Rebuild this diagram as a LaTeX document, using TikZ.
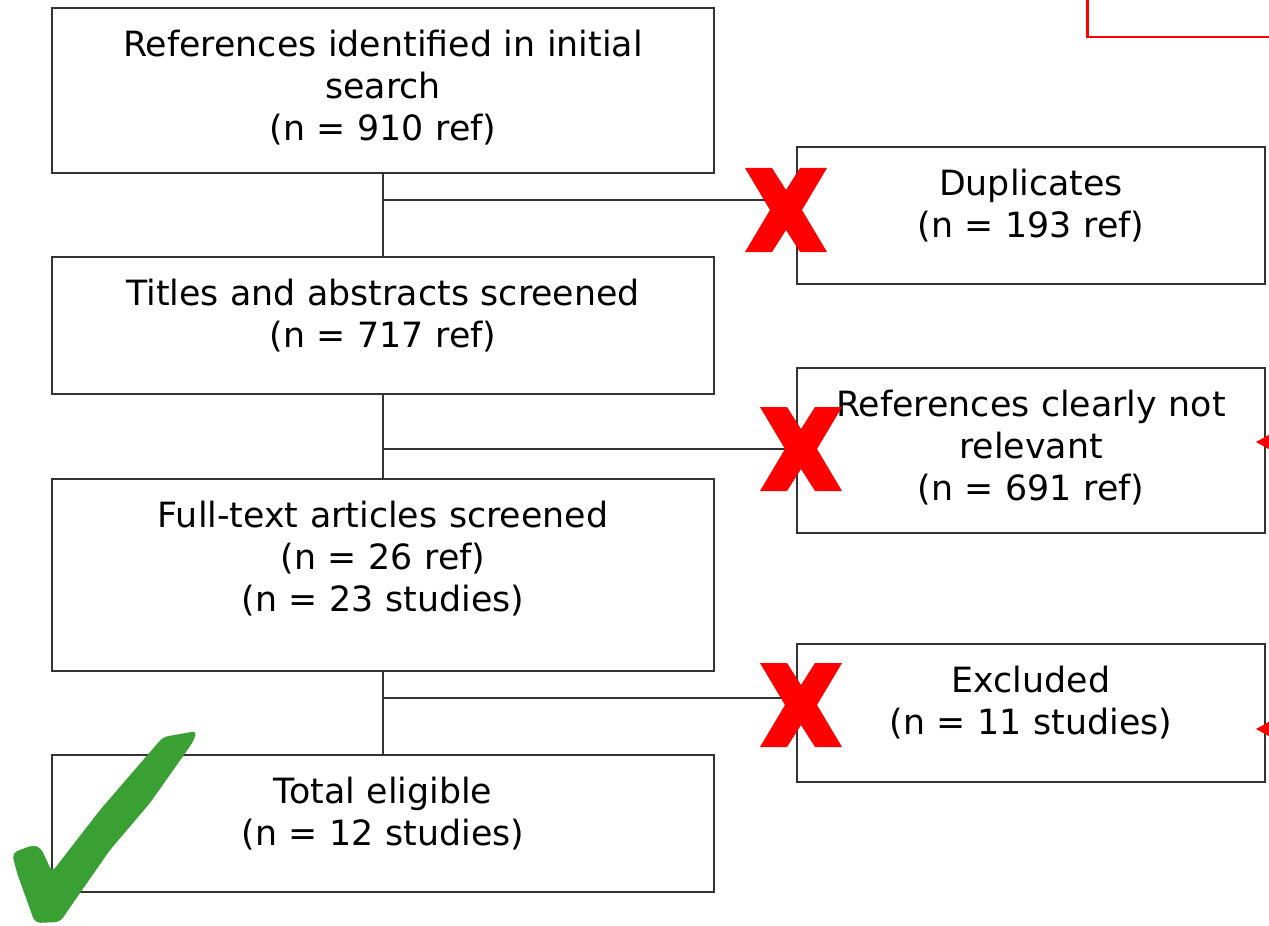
\documentclass[tikz,border=0pt]{standalone}
\usepackage{fontspec}
\setmainfont{DejaVu Sans}
\usepackage{tikz}
\usetikzlibrary{calc}
\definecolor{boxgray}{RGB}{51,51,51}
\definecolor{tickgreen}{RGB}{58,160,52}

\tikzset{
	stage/.style={draw=boxgray, line width=1.1pt, text width=13.24cm, inner sep=0pt,
		align=center, anchor=north, text height=0.98cm, font=\fontsize{19.8}{23.8}\selectfont},
	side/.style={stage, text width=9.36cm},
	link/.style={draw=boxgray, line width=1.1pt},
	redx/.style={fill=red},
}

\begin{document}
\begin{tikzpicture}[x=0.02cm, y=-0.02cm]
		\useasboundingbox (0,0) rectangle (1269,926);
		\clip (0,0) rectangle (1269,926);
		% main column
		\node (A) [stage, text depth=2.32cm] at (383,7) {References identified in initial\\search\\(n = 910 ref)};
		\node (B) [stage, text depth=1.76cm] at (383,256) {Titles and abstracts screened\\(n = 717 ref)};
		\node (C) [stage, text depth=2.86cm] at (383,478) {Full-text articles screened\\(n = 26 ref)\\(n = 23 studies)};
		\node (D) [stage, text depth=1.76cm] at (383,754) {Total eligible\\(n = 12 studies)};
		% removed at each step
		\node (E) [side, text depth=1.76cm] at (1031,146) {Duplicates\\(n = 193 ref)};
		\node (F) [side, text depth=2.32cm] at (1031,367) {References clearly not\\relevant\\(n = 691 ref)};
		\node (G) [side, text depth=1.78cm] at (1031,643) {Excluded\\(n = 11 studies)};
		\coordinate (J1) at (383,200);
		\coordinate (J2) at (383,449);
		\coordinate (J3) at (383,698);
		\draw[link](A) to (B);
		\draw[link](B) to (C);
		\draw[link](C) to (D);
		\draw[link](J1) to (J1 -| E.west);
		\draw[link](J2) to (J2 -| F.west);
		\draw[link](J3) to (J3 -| G.west);
		% crosses
		\fill[redx, shift={(786,210)}] (-41,-42) -- (-14,-42) -- (0,-20) -- (14,-42) -- (41,-42) -- (16,0) -- (41,42) -- (14,42) -- (0,20) -- (-14,42) -- (-41,42) -- (-16,0) -- cycle;
		\fill[redx, shift={(801,449)}] (-41,-42) -- (-14,-42) -- (0,-20) -- (14,-42) -- (41,-42) -- (16,0) -- (41,42) -- (14,42) -- (0,20) -- (-14,42) -- (-41,42) -- (-16,0) -- cycle;
		\fill[redx, shift={(801,705)}] (-41,-42) -- (-14,-42) -- (0,-20) -- (14,-42) -- (41,-42) -- (16,0) -- (41,42) -- (14,42) -- (0,20) -- (-14,42) -- (-41,42) -- (-16,0) -- cycle;
		% tick
		\fill[tickgreen, rounded corners=3pt] (12,853) -- (33,845) -- (41,848) -- (52,872) -- (100,810) -- (163,737) -- (197,731) -- (193,742) -- (150,803) -- (110,850) -- (80,893) -- (60,922) -- (35,923) -- (17,873) -- cycle;
		% bits cut off at the right edge
		\draw[red, line width=1.7pt] (1087,-10) -- (1087,37) -- (1290,37);
		\fill[red] (1256,442) -- (1285,426) -- (1285,458) -- cycle;
		\fill[red] (1256,729) -- (1285,713) -- (1285,745) -- cycle;
\end{tikzpicture}
\end{document}
